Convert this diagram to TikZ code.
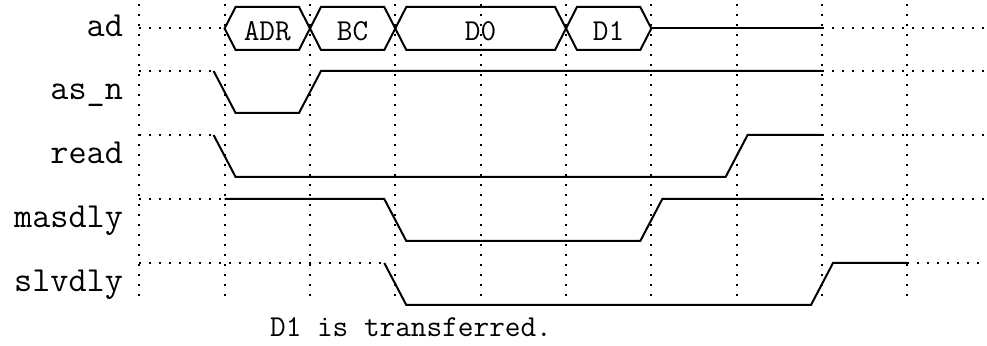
\documentclass[tikz,border=0pt]{standalone}
\begin{document}
\begin{tikzpicture}
  [x=.5pt,y=-.5pt,line width=1pt,
   gridline/.style={line width=1pt,dash pattern=on 1pt off 4pt},
   wave/.style={line width=1pt,line join=miter},
   sig/.style={anchor=base east,inner sep=0pt,font=\ttfamily\fontsize{17.6}{20}\selectfont},
   bus/.style={inner sep=0pt,font=\ttfamily\fontsize{15.2}{18}\selectfont}]
  \useasboundingbox (0,0) rectangle (987,346);

  \foreach \x in {139.3,224.6,310,395.3,480.6,566,651.3,736.6,822,907.3}
    \draw[gridline] (\x,4) -- (\x,298);

  \foreach \n/\t/\y in {ad/ad/36.5,asn/as\_n/100,read/read/164,masdly/masdly/228,slvdly/slvdly/292}
    \node[sig] (l\n) at (124,\y) {\t};

  % ad
  \draw[gridline] (139.3,28.5) -- (224.6,28.5);
  \foreach \a/\b/\t in {224.6/310/ADR,310/395.3/BC,395.3/566/D0,566/651.3/D1}
  {
    \draw[wave] (\a,28.5) -- (\a+11,7) -- (\b-11,7) -- (\b,28.5) -- (\b-11,50) -- (\a+11,50) -- cycle;
    \node[bus] (b\t) at ({(\a+\b)/2},31) {\t};
  }
  \draw[wave] (651.3,28.5) -- (822,28.5);
  \draw[gridline] (822,28.5) -- (987,28.5);

  % as_n
  \draw[gridline] (139.3,71) -- (213.6,71);
  \draw[wave] (213.6,71) -- (235.6,113) -- (299,113) -- (321,71) -- (822,71);
  \draw[gridline] (822,71) -- (987,71);

  % read
  \draw[gridline] (139.3,135) -- (213.6,135);
  \draw[wave] (213.6,135) -- (235.6,177) -- (725.6,177) -- (747.6,135) -- (822,135);
  \draw[gridline] (822,135) -- (987,135);

  % masdly
  \draw[gridline] (139.3,199) -- (224.6,199);
  \draw[wave] (224.6,199) -- (384.3,199) -- (406.3,241) -- (640.3,241) -- (662.3,199) -- (822,199);
  \draw[gridline] (822,199) -- (987,199);

  % slvdly
  \draw[gridline] (139.3,263) -- (384.3,263);
  \draw[wave] (384.3,263) -- (406.3,305) -- (811,305) -- (833,263) -- (907.3,263);
  \draw[gridline] (907.3,263) -- (987,263);

  \node[bus,anchor=base] (note) at (411,337) {D1 is transferred.};
\end{tikzpicture}
\end{document}
